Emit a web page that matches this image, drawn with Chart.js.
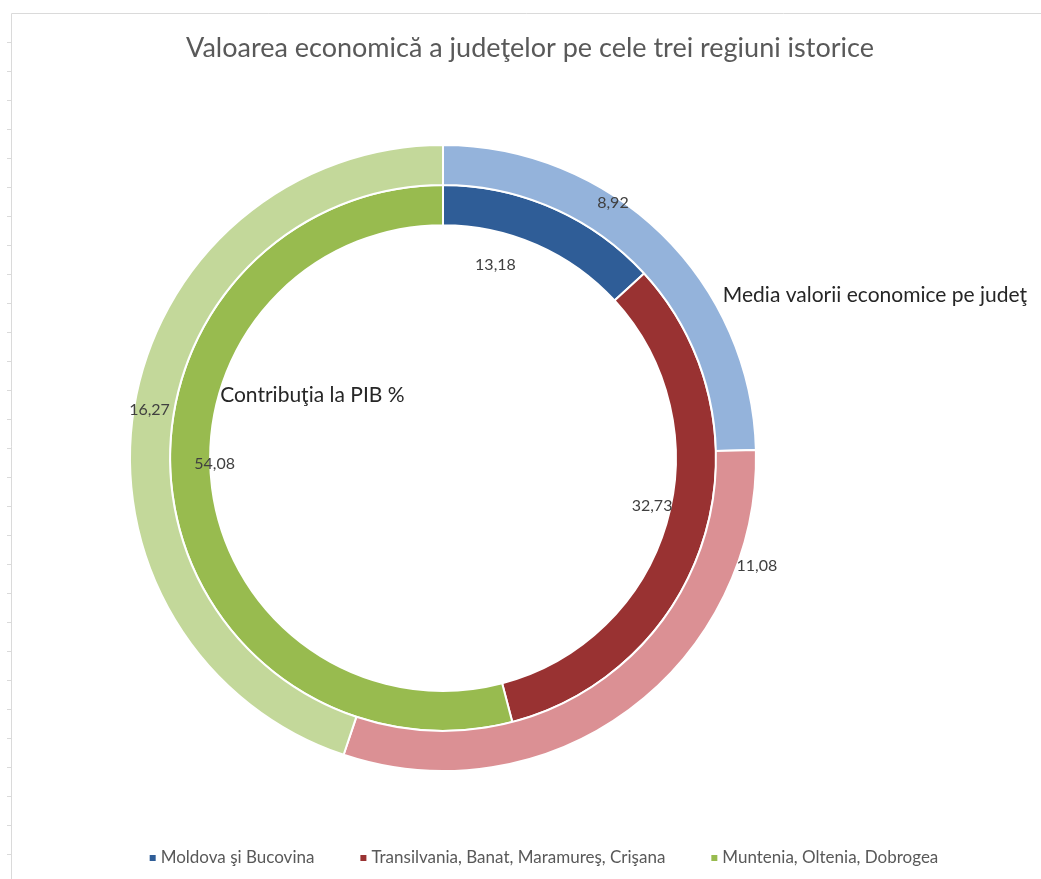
<!DOCTYPE html>
<html>
<head>
<meta charset="utf-8">
<script src="https://cdn.jsdelivr.net/npm/chart.js@4.4.0/dist/chart.umd.min.js"></script>
<style>
  html, body { margin: 0; padding: 0; background: #fff; }
  #wrap { width: 1041px; height: 879px; position: relative; }
</style>
</head>
<body>
<div id="wrap"><canvas id="chart"></canvas></div>
<script>
const chartTitle = 'Valoarea economică a judeţelor pe cele trei regiuni istorice';
const regions = ['Moldova şi Bucovina', 'Transilvania, Banat, Maramureş, Crişana', 'Muntenia, Oltenia, Dobrogea'];
const seriesNames = ['Media valorii economice pe judeţ', 'Contribuţia la PIB %'];
const mediaValori = [8.92, 11.08, 16.27];
const contributiaPIB = [13.18, 32.73, 54.08];

const darkColors = ['#2f5d97', '#993232', '#98bb4f'];
const lightColors = ['#94b3db', '#db9094', '#c3d89a'];

// where each value label sits: fraction along its arc, distance from centre (in outer radii)
const labelSpots = [
  [{ f: 0.38, r: 0.98 }, { f: 0.185, r: 1.06 }, { f: 0.5, r: 0.95 }],
  [{ f: 0.32, r: 0.64 }, { f: 0.47, r: 0.685 }, { f: 0.53, r: 0.73 }]
];
// series name labels (offset from centre, in outer radii; left aligned)
const nameSpots = [{ dx: 0.894, dy: -0.52 }, { dx: -0.712, dy: -0.2 }];

const fontFam = 'Lato, "Open Sans", sans-serif';
const fmt = v => v.toFixed(2).replace('.', ',');

const decorPlugin = {
  id: 'decor',
  beforeDraw(chart) {
    const ctx = chart.ctx;
    ctx.save();
    ctx.strokeStyle = '#dadada';
    ctx.lineWidth = 1;
    ctx.beginPath();
    ctx.moveTo(11.5, 13.5); ctx.lineTo(chart.width, 13.5);
    ctx.moveTo(11.5, 13.5); ctx.lineTo(11.5, chart.height);
    for (let y = 42; y < chart.height; y += 29) {
      ctx.moveTo(7, y + 0.5); ctx.lineTo(11, y + 0.5);
    }
    ctx.stroke();
    ctx.restore();
  },
  afterDraw(chart) {
    const ctx = chart.ctx;
    ctx.save();
    // title
    ctx.fillStyle = '#595959';
    ctx.font = '27px ' + fontFam;
    ctx.textAlign = 'center';
    ctx.textBaseline = 'middle';
    ctx.fillText(chartTitle, 530, 48);

    // value labels
    const first = chart.getDatasetMeta(0).data[0];
    const outerR = first.outerRadius, cx = first.x, cy = first.y;
    ctx.font = '16px ' + fontFam;
    ctx.fillStyle = '#404040';
    chart.data.datasets.forEach((ds, i) => {
      chart.getDatasetMeta(i).data.forEach((arc, j) => {
        const spot = labelSpots[i][j];
        const a = arc.startAngle + spot.f * (arc.endAngle - arc.startAngle);
        const r = spot.r * outerR;
        ctx.fillText(fmt(ds.data[j]), cx + Math.cos(a) * r, cy + Math.sin(a) * r);
      });
    });

    // series names
    ctx.font = '21px ' + fontFam;
    ctx.fillStyle = '#262626';
    ctx.textAlign = 'left';
    chart.data.datasets.forEach((ds, i) => {
      ctx.fillText(ds.label, cx + nameSpots[i].dx * outerR, cy + nameSpots[i].dy * outerR);
    });

    // legend
    ctx.font = '17px ' + fontFam;
    const gap = 46, box = 6, pad = 5;
    const widths = chart.data.labels.map(l => ctx.measureText(l).width + box + pad);
    const total = widths.reduce((s, w) => s + w, 0) + gap * (widths.length - 1);
    let x = 544 - total / 2;
    const ly = 858;
    chart.data.labels.forEach((l, j) => {
      ctx.fillStyle = darkColors[j];
      ctx.fillRect(x, ly - box / 2, box, box);
      ctx.fillStyle = '#595959';
      ctx.fillText(l, x + box + pad, ly);
      x += widths[j] + gap;
    });
    ctx.restore();
  }
};

new Chart(document.getElementById('chart'), {
  type: 'doughnut',
  data: {
    labels: regions,
    datasets: [
      {
        label: seriesNames[0],
        data: mediaValori,
        backgroundColor: lightColors,
        borderColor: '#ffffff',
        borderWidth: 2
      },
      {
        label: seriesNames[1],
        data: contributiaPIB,
        backgroundColor: darkColors,
        borderColor: '#ffffff',
        borderWidth: 2
      }
    ]
  },
  options: {
    responsive: true,
    maintainAspectRatio: false,
    animation: false,
    cutout: '74.4%',
    layout: {
      padding: { left: 129, right: 284, top: 144, bottom: 107 }
    },
    plugins: {
      legend: { display: false },
      title: { display: false },
      tooltip: { enabled: false }
    }
  },
  plugins: [decorPlugin]
});
</script>
</body>
</html>
